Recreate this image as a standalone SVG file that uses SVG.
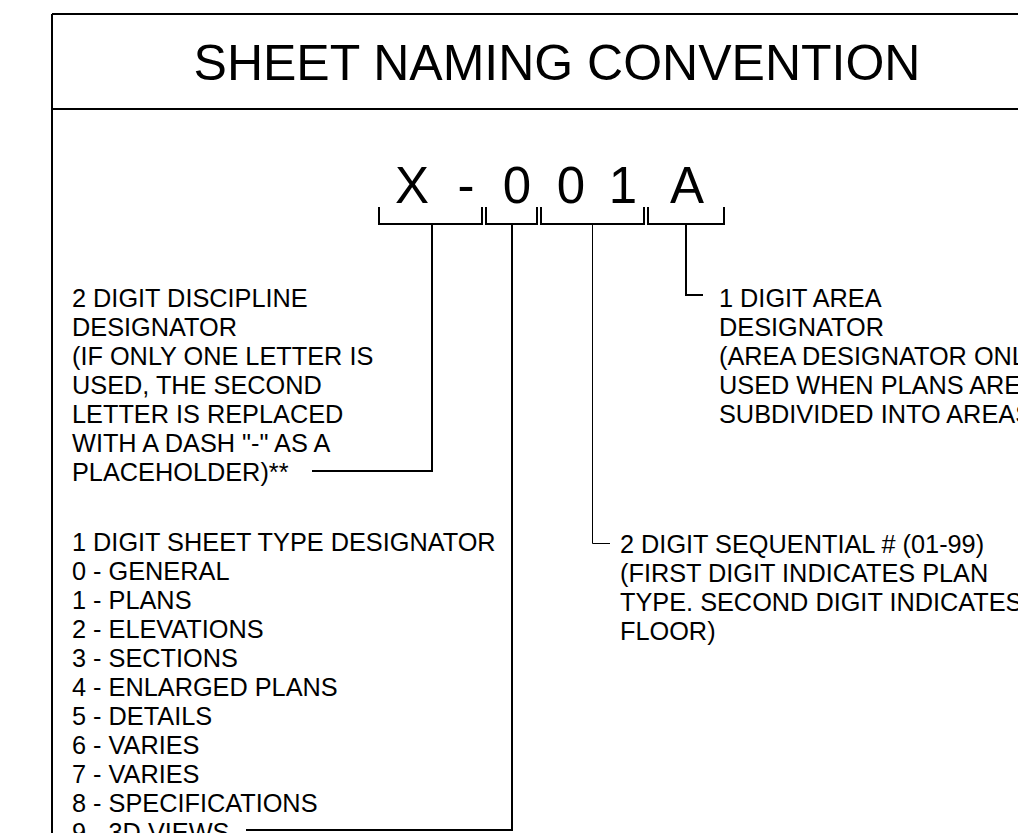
<svg xmlns="http://www.w3.org/2000/svg" width="1018" height="833" viewBox="0 0 1018 833">
<style>
.t{font-family:"Liberation Sans",Arial,sans-serif;fill:#000}
.body{font-size:25.3px}
.ln{stroke:#000;stroke-width:2;fill:none}
.thin{stroke:#000;stroke-width:1;fill:none}
</style>
<rect width="1018" height="833" fill="#fff"/>
<g id="frame">
<path class="ln" d="M52,14 H1030 M52,14 V840 M52,109 H1030"/>
</g>
<g id="title">
<text class="t" x="557" y="80" font-size="50" text-anchor="middle">SHEET NAMING CONVENTION</text>
</g>
<g id="code">
<text class="t" y="203" font-size="51" text-anchor="middle" x="412 466 517 571 623 687">X-001A</text>
<path class="ln" d="M379,207 V224 H482 V207 M486,207 V224 H537 V207 M541,207 V224 H644 V207 M648,207 V224 H724 V207"/>
</g>
<g id="connectors">
<path class="ln" d="M432,224 V471 H312"/>
<path class="ln" d="M512,224 V830 H246"/>
<path class="thin" d="M592.5,224 V543.5 H610"/>
<path class="ln" d="M686,224 V295 H703"/>
</g>
<g id="discipline">
<text class="t body">
<tspan x="72" y="307">2 DIGIT DISCIPLINE</tspan>
<tspan x="72" y="336">DESIGNATOR</tspan>
<tspan x="72" y="365">(IF ONLY ONE LETTER IS</tspan>
<tspan x="72" y="394">USED, THE SECOND</tspan>
<tspan x="72" y="423">LETTER IS REPLACED</tspan>
<tspan x="72" y="452">WITH A DASH "-" AS A</tspan>
<tspan x="72" y="481">PLACEHOLDER)**</tspan>
</text>
</g>
<g id="sheettype">
<text class="t body">
<tspan x="72" y="551">1 DIGIT SHEET TYPE DESIGNATOR</tspan>
<tspan x="72" y="580">0 - GENERAL</tspan>
<tspan x="72" y="609">1 - PLANS</tspan>
<tspan x="72" y="638">2 - ELEVATIONS</tspan>
<tspan x="72" y="667">3 - SECTIONS</tspan>
<tspan x="72" y="696">4 - ENLARGED PLANS</tspan>
<tspan x="72" y="725">5 - DETAILS</tspan>
<tspan x="72" y="754">6 - VARIES</tspan>
<tspan x="72" y="783">7 - VARIES</tspan>
<tspan x="72" y="812">8 - SPECIFICATIONS</tspan>
<tspan x="72" y="841">9 - 3D VIEWS</tspan>
</text>
</g>
<g id="area">
<text class="t body">
<tspan x="719" y="307">1 DIGIT AREA</tspan>
<tspan x="719" y="336">DESIGNATOR</tspan>
<tspan x="719" y="365">(AREA DESIGNATOR ONLY</tspan>
<tspan x="719" y="394">USED WHEN PLANS ARE</tspan>
<tspan x="719" y="423">SUBDIVIDED INTO AREAS</tspan>
</text>
</g>
<g id="sequential">
<text class="t body">
<tspan x="620" y="553">2 DIGIT SEQUENTIAL # (01-99)</tspan>
<tspan x="620" y="582">(FIRST DIGIT INDICATES PLAN</tspan>
<tspan x="620" y="611">TYPE. SECOND DIGIT INDICATES</tspan>
<tspan x="620" y="640">FLOOR)</tspan>
</text>
</g>
</svg>
